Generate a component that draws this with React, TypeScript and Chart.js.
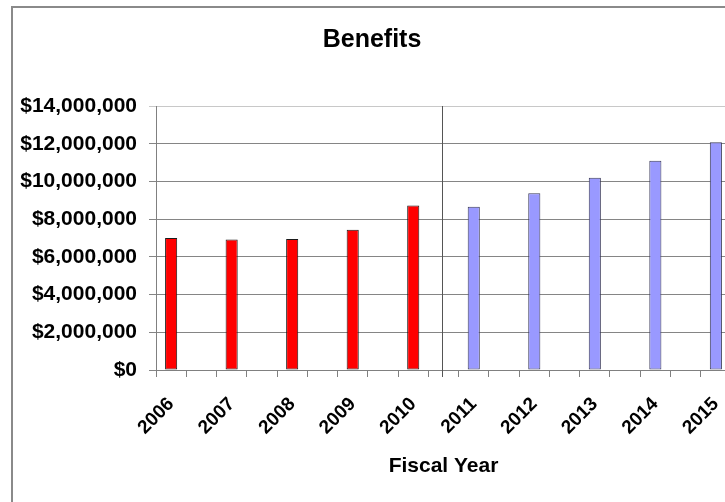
import React, { useEffect, useRef } from "react";
import { Chart, registerables } from "chart.js";

Chart.register(...registerables);

// Fiscal years shown on the category axis
const years = ["2006", "2007", "2008", "2009", "2010", "2011", "2012", "2013", "2014", "2015"];
// Actual benefits paid (FY2006–FY2010)
const actualBenefits = [7000000, 6920000, 6950000, 7440000, 8720000];
// Projected benefits (FY2011–FY2015)
const projectedBenefits = [8660000, 9370000, 10190000, 11090000, 12080000];
// Value axis ticks
const yTicks = [0, 2000000, 4000000, 6000000, 8000000, 10000000, 12000000, 14000000];

const FONT = "'Liberation Sans', Arial, sans-serif";

// Each year gets its own slot with an empty slot between consecutive years.
const labels: string[] = [];
years.forEach((y, i) => {
  labels.push(y);
  if (i < years.length - 1) labels.push("");
});
const actualData: (number | null)[] = labels.map(() => null);
const projectedData: (number | null)[] = labels.map(() => null);
actualBenefits.forEach((v, i) => (actualData[i * 2] = v));
projectedBenefits.forEach((v, i) => (projectedData[(actualBenefits.length + i) * 2] = v));
// Slot that separates actual from projected years
const dividerSlot = actualBenefits.length * 2 - 1;

const dividerPlugin = {
  id: "divider",
  afterDatasetsDraw(chart: any) {
    const { ctx, chartArea, scales } = chart;
    const x = Math.round(scales.x.getPixelForValue(dividerSlot)) - 1.5;
    ctx.save();
    ctx.strokeStyle = "#555555";
    ctx.lineWidth = 1;
    ctx.beginPath();
    ctx.moveTo(x, chartArea.top);
    ctx.lineTo(x, chartArea.bottom + 7);
    ctx.stroke();
    ctx.restore();
  },
};

export default function App() {
  const ref = useRef<HTMLCanvasElement>(null);

  useEffect(() => {
    if (!ref.current) return;
    const chart = new Chart(ref.current, {
      type: "bar",
      data: {
        labels,
        datasets: [
          {
            label: "Actual",
            data: actualData,
            backgroundColor: "#FF0000",
            borderColor: "#1a1a1a",
            borderWidth: 1,
            borderSkipped: false,
          },
          {
            label: "Projected",
            data: projectedData,
            backgroundColor: "#9999FF",
            borderColor: "#3a3a5a",
            borderWidth: 1,
            borderSkipped: false,
          },
        ],
      },
      options: {
        responsive: false,
        animation: false,
        maintainAspectRatio: false,
        layout: { padding: { left: 0, right: 2, top: 0, bottom: 0 } },
        datasets: { bar: { grouped: false, barPercentage: 0.4, categoryPercentage: 1 } },
        plugins: {
          legend: { display: false },
          tooltip: { enabled: false },
          title: {
            display: true,
            text: "Benefits",
            color: "#000",
            font: { family: FONT, size: 25, weight: "bold" },
            padding: { top: 17, bottom: 51 },
          },
        },
        scales: {
          x: {
            offset: true,
            grid: {
              offset: true,
              drawOnChartArea: false,
              drawTicks: true,
              tickLength: 7,
              color: "#808080",
            },
            border: { display: true, color: "#808080" },
            ticks: {
              autoSkip: false,
              minRotation: 45,
              maxRotation: 45,
              padding: 16,
              color: "#000",
              font: { family: FONT, size: 19, weight: "bold" },
            },
            title: {
              display: true,
              text: "Fiscal Year",
              color: "#000",
              font: { family: FONT, size: 21, weight: "bold" },
              padding: { top: 0, bottom: 23 },
            },
            afterFit(scale: any) {
              scale.height = 132;
              scale.paddingLeft = 0;
              scale.paddingRight = 0;
            },
          },
          y: {
            min: 0,
            max: 14000000,
            afterBuildTicks(scale: any) {
              scale.ticks = yTicks.map((v) => ({ value: v }));
            },
            grid: {
              drawTicks: true,
              tickLength: 7,
              color: (ctx: any) =>
                ctx.tick && ctx.tick.value === 14000000 ? "#c8c8c8" : "#858585",
            },
            border: { display: true, color: "#808080" },
            ticks: {
              padding: 12,
              color: "#000",
              font: { family: FONT, size: 21, weight: "bold" },
              callback: (v: any) => "$" + Number(v).toLocaleString("en-US"),
            },
            afterFit(scale: any) {
              scale.width = 143;
            },
          },
        },
      },
      plugins: [dividerPlugin],
    });
    return () => chart.destroy();
  }, []);

  return (
    <div
      style={{
        position: "fixed",
        left: 0,
        top: 0,
        width: 725,
        height: 502,
        overflow: "hidden",
        background: "#fff",
      }}
    >
      <div
        style={{
          position: "absolute",
          left: 11,
          top: 6,
          width: 730,
          height: 520,
          border: "2px solid #8a8a8a",
          boxSizing: "border-box",
        }}
      />
      <canvas
        ref={ref}
        width={720}
        height={494}
        style={{ position: "absolute", left: 13, top: 8, width: 720, height: 494 }}
      />
    </div>
  );
}
